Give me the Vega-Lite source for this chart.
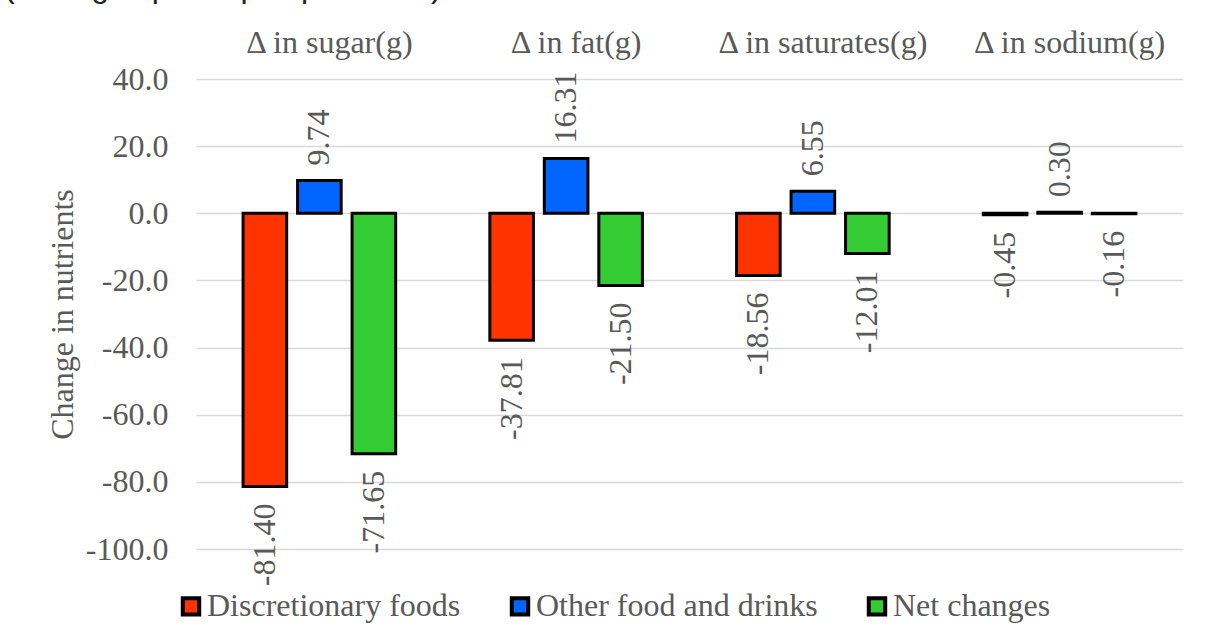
{
  "$schema": "https://vega.github.io/schema/vega-lite/v6.json",
  "width": 987,
  "height": 470,
  "autosize": {"type": "none"},
  "padding": {"left": 196, "top": 79, "right": 23, "bottom": 91},
  "background": "white",
  "title": {
    "text": "(Changes per capita per week)",
    "anchor": "start",
    "frame": "group",
    "dx": -192,
    "offset": 0,
    "dy": 3,
    "baseline": "alphabetic",
    "font": "Liberation Sans",
    "fontSize": 32,
    "fontWeight": "normal",
    "color": "#222222"
  },
  "data": {
    "values": [
      {"nutrient": "Δ in sugar(g)", "type": "Discretionary foods", "value": -81.40},
      {"nutrient": "Δ in sugar(g)", "type": "Other food and drinks", "value": 9.74},
      {"nutrient": "Δ in sugar(g)", "type": "Net changes", "value": -71.65},
      {"nutrient": "Δ in fat(g)", "type": "Discretionary foods", "value": -37.81},
      {"nutrient": "Δ in fat(g)", "type": "Other food and drinks", "value": 16.31},
      {"nutrient": "Δ in fat(g)", "type": "Net changes", "value": -21.50},
      {"nutrient": "Δ in saturates(g)", "type": "Discretionary foods", "value": -18.56},
      {"nutrient": "Δ in saturates(g)", "type": "Other food and drinks", "value": 6.55},
      {"nutrient": "Δ in saturates(g)", "type": "Net changes", "value": -12.01},
      {"nutrient": "Δ in sodium(g)", "type": "Discretionary foods", "value": -0.45},
      {"nutrient": "Δ in sodium(g)", "type": "Other food and drinks", "value": 0.30},
      {"nutrient": "Δ in sodium(g)", "type": "Net changes", "value": -0.16}
    ]
  },
  "encoding": {
    "x": {
      "field": "nutrient",
      "type": "nominal",
      "sort": ["Δ in sugar(g)", "Δ in fat(g)", "Δ in saturates(g)", "Δ in sodium(g)"],
      "scale": {"paddingInner": 0, "paddingOuter": 0},
      "title": null,
      "axis": {
        "orient": "top",
        "labelAngle": 0,
        "domain": false,
        "ticks": false,
        "tickSize": 0,
        "grid": false,
        "labelPadding": 27,
        "labelBaseline": "alphabetic",
        "labelOffset": 10,
        "labelLimit": 400,
        "labelFont": "Liberation Serif",
        "labelFontSize": 32,
        "labelColor": "#595959"
      }
    },
    "xOffset": {
      "field": "type",
      "type": "nominal",
      "sort": ["Discretionary foods", "Other food and drinks", "Net changes"],
      "scale": {"paddingInner": 0.2, "paddingOuter": 0.864}
    },
    "y": {
      "field": "value",
      "type": "quantitative",
      "scale": {"domain": [-100, 40], "nice": false},
      "axis": {
        "title": "Change in nutrients",
        "values": [-100, -80, -60, -40, -20, 0, 20, 40],
        "format": ".1f",
        "domain": false,
        "ticks": false,
        "tickSize": 0,
        "grid": true,
        "gridColor": "#d9d9d9",
        "gridWidth": 1.5,
        "labelPadding": 28,
        "labelFont": "Liberation Serif",
        "labelFontSize": 32,
        "labelColor": "#595959",
        "titleFont": "Liberation Serif",
        "titleFontSize": 32,
        "titleFontWeight": "normal",
        "titleColor": "#595959",
        "titlePadding": 6
      }
    }
  },
  "layer": [
    {
      "mark": {"type": "bar", "stroke": "black", "strokeWidth": 3},
      "encoding": {
        "color": {
          "field": "type",
          "type": "nominal",
          "scale": {
            "domain": ["Discretionary foods", "Other food and drinks", "Net changes"],
            "range": ["#FF3300", "#0066FF", "#33CC33"]
          },
          "legend": {
            "title": null,
            "orient": "none",
            "direction": "horizontal",
            "legendX": -21,
            "legendY": 511,
            "padding": 0,
            "symbolType": "square",
            "symbolSize": 270,
            "symbolStrokeColor": "black",
            "symbolStrokeWidth": 4,
            "symbolOpacity": 1,
            "labelFont": "Liberation Serif",
            "labelFontSize": 32,
            "labelColor": "#595959",
            "labelOffset": 0,
            "columnPadding": 42,
            "labelLimit": 500
          }
        }
      }
    },
    {
      "transform": [{"filter": "datum.value < 0"}],
      "mark": {
        "type": "text",
        "angle": 270,
        "align": "right",
        "baseline": "middle",
        "dx": -17,
        "font": "Liberation Serif",
        "fontSize": 32,
        "color": "#595959"
      },
      "encoding": {"text": {"field": "value", "type": "quantitative", "format": ".2f"}}
    },
    {
      "transform": [{"filter": "datum.value >= 0"}],
      "mark": {
        "type": "text",
        "angle": 270,
        "align": "left",
        "baseline": "middle",
        "dx": 15,
        "font": "Liberation Serif",
        "fontSize": 32,
        "color": "#595959"
      },
      "encoding": {"text": {"field": "value", "type": "quantitative", "format": ".2f"}}
    }
  ],
  "config": {
    "view": {"stroke": null},
    "locale": {
      "number": {
        "decimal": ".",
        "thousands": ",",
        "grouping": [3],
        "currency": ["$", ""],
        "minus": "-"
      }
    }
  }
}
